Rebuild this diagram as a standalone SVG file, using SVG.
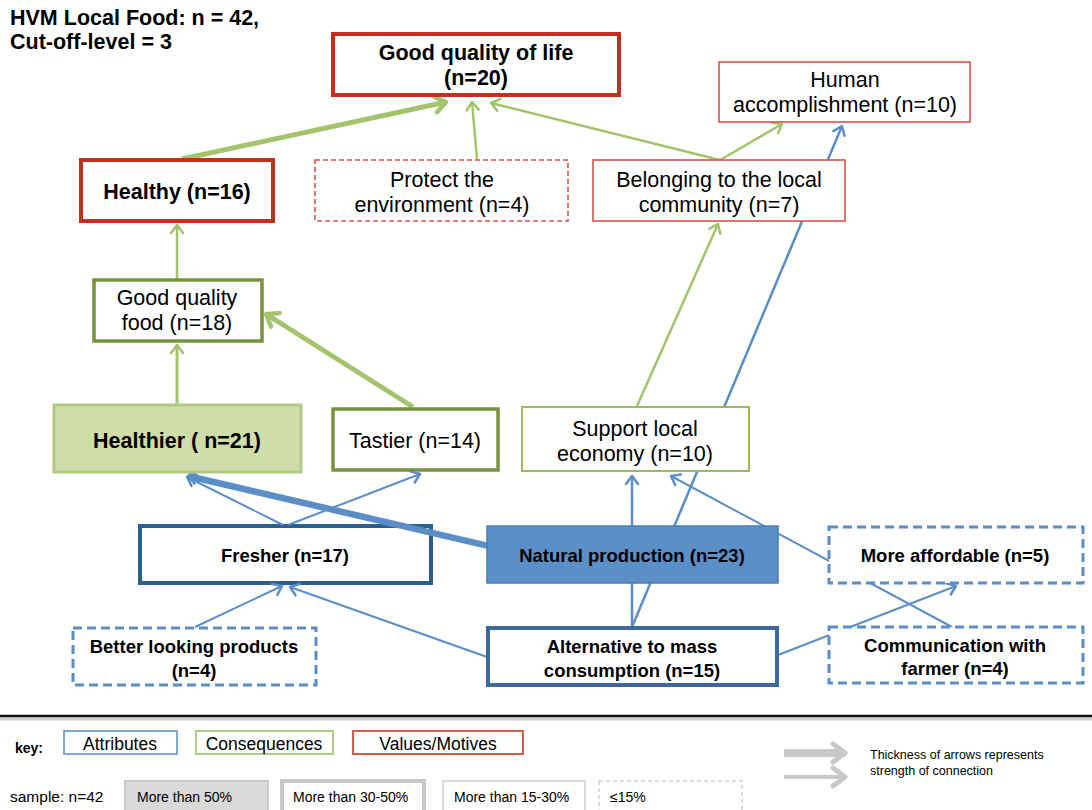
<svg xmlns="http://www.w3.org/2000/svg" width="1092" height="810" viewBox="0 0 1092 810">
<style>
text{font-family:"Liberation Sans",Arial,sans-serif;fill:#000}
.b{font-weight:bold}
.big{font-size:21.5px}
.sm{font-size:18.5px}
.c{text-anchor:middle}
.box{fill:#fff}
.redT{stroke:#c0301c;stroke-width:4}
.redt{stroke:#d9534a;stroke-width:1.6}
.redd{stroke:#d9534a;stroke-width:1.6;stroke-dasharray:5,3}
.olive{stroke:#77933c;stroke-width:3.5}
.greent{stroke:#9bbb59;stroke-width:2}
.navy{stroke:#2d5e90;stroke-width:4}
.blued{stroke:#5b8ec6;stroke-width:3;stroke-dasharray:9,5}
.g{fill:none;stroke:#a3c36c;stroke-width:2.5}
.bl{fill:none;stroke:#5b8ec6;stroke-width:2}
.key{font-size:17.5px}
.lg{font-size:14px}
</style>
<defs>
<marker id="ag" markerUnits="userSpaceOnUse" markerWidth="30" markerHeight="30" refX="0" refY="0" orient="auto" overflow="visible"><path d="M-8,-6 L0,0 L-8,6" fill="none" stroke="#a3c36c" stroke-width="2.5" stroke-linecap="round" stroke-linejoin="round"/></marker>
<marker id="agT" markerUnits="userSpaceOnUse" markerWidth="30" markerHeight="30" refX="0" refY="0" orient="auto" overflow="visible"><path d="M-11,-8 L0,0 L-11,8" fill="none" stroke="#a3c36c" stroke-width="4.5" stroke-linecap="round" stroke-linejoin="round"/></marker>
<marker id="ab" markerUnits="userSpaceOnUse" markerWidth="30" markerHeight="30" refX="0" refY="0" orient="auto" overflow="visible"><path d="M-8,-6 L0,0 L-8,6" fill="none" stroke="#5b8ec6" stroke-width="2.5" stroke-linecap="round" stroke-linejoin="round"/></marker>
<marker id="agr" markerUnits="userSpaceOnUse" markerWidth="40" markerHeight="40" refX="0" refY="0" orient="auto" overflow="visible"><path d="M-12,-9 L0,0 L-12,9" fill="none" stroke="#c8c8c8" stroke-width="5" stroke-linecap="round" stroke-linejoin="round"/></marker>
</defs>

<g id="title">
<text class="b big" x="10" y="25">HVM Local Food: n = 42,</text>
<text class="b big" x="10" y="49">Cut-off-level = 3</text>
</g>

<g id="n-fresher">
<rect class="box navy" x="140" y="526" width="291" height="57"/>
<text class="b sm c" x="285" y="562">Fresher (n=17)</text>
</g>

<g id="connectors">
<path class="g" d="M182,159 L446,102" style="stroke-width:5" marker-end="url(#agT)"/>
<path class="g" d="M477,159 L472,102" marker-end="url(#ag)"/>
<path class="g" d="M720,160 L491,103" marker-end="url(#ag)"/>
<path class="g" d="M720,160 L782,124" marker-end="url(#ag)"/>
<path class="g" d="M177,279 L177,225" marker-end="url(#ag)"/>
<path class="g" d="M177,404 L177,345" style="stroke-width:3" marker-end="url(#ag)"/>
<path class="g" d="M413,407 L266,314" style="stroke-width:5" marker-end="url(#agT)"/>
<path class="g" d="M637,406 L718,224" marker-end="url(#ag)"/>
<path class="bl" d="M540,558 L188,476" style="stroke-width:6.5" marker-end="url(#ab)"/>
<path class="bl" d="M283,525 L187,477" marker-end="url(#ab)"/>
<path class="bl" d="M288,525 L420,474" marker-end="url(#ab)"/>
<path class="bl" d="M632,627 L842,126" style="stroke-width:2.5" marker-end="url(#ab)"/>
<path class="bl" d="M632,627 L632,476" style="stroke-width:2.5" marker-end="url(#ab)"/>
<path class="bl" d="M952,627 L671,476" marker-end="url(#ab)"/>
<path class="bl" d="M778,655 L956,586" marker-end="url(#ab)"/>
<path class="bl" d="M487,657 L290,587" marker-end="url(#ab)"/>
<path class="bl" d="M195,627 L282,586" marker-end="url(#ab)"/>
</g>

<g id="n-goodlife">
<rect class="box redT" x="333" y="34" width="286" height="61"/>
<text class="b big c" x="476" y="60">Good quality of life</text>
<text class="b big c" x="476" y="85">(n=20)</text>
</g>
<g id="n-human">
<rect class="box redt" x="719" y="62" width="251" height="60"/>
<text class="big c" x="845" y="87">Human</text>
<text class="big c" x="845" y="112">accomplishment (n=10)</text>
</g>
<g id="n-healthy">
<rect class="box redT" x="81" y="160" width="192" height="61"/>
<text class="b big c" x="177" y="199">Healthy (n=16)</text>
</g>
<g id="n-protect">
<rect class="box redd" x="315" y="160" width="253" height="61"/>
<text class="big c" x="442" y="187">Protect the</text>
<text class="big c" x="442" y="212">environment (n=4)</text>
</g>
<g id="n-belonging">
<rect class="box redt" x="593" y="160" width="252" height="61"/>
<text class="big c" x="719" y="187">Belonging to the local</text>
<text class="big c" x="719" y="212">community (n=7)</text>
</g>
<g id="n-goodfood">
<rect class="box olive" x="94" y="280" width="168" height="61"/>
<text class="big c" x="177" y="305">Good quality</text>
<text class="big c" x="177" y="330">food (n=18)</text>
</g>
<g id="n-healthier">
<rect x="54" y="405" width="247" height="67" fill="#d0ddaa" stroke="#b0c985" stroke-width="3"/>
<text class="b big c" x="177" y="448">Healthier ( n=21)</text>
</g>
<g id="n-tastier">
<rect class="box olive" x="333" y="409" width="165" height="61"/>
<text class="big c" x="415" y="448">Tastier (n=14)</text>
</g>
<g id="n-support">
<rect class="box greent" x="522" y="407" width="227" height="64"/>
<text class="big c" x="635" y="436">Support local</text>
<text class="big c" x="635" y="461">economy (n=10)</text>
</g>
<g id="n-natural">
<rect x="487" y="526" width="291" height="57" fill="#5b8fc8" stroke="#4a7cb8" stroke-width="1.5"/>
<text class="b sm c" x="632" y="562">Natural production (n=23)</text>
</g>
<g id="n-affordable">
<rect class="box blued" x="829" y="527" width="254" height="56"/>
<text class="b sm c" x="955" y="562">More affordable (n=5)</text>
</g>
<g id="n-better">
<rect class="box blued" x="73" y="628" width="243" height="57"/>
<text class="b sm c" x="194" y="653">Better looking products</text>
<text class="b sm c" x="194" y="677">(n=4)</text>
</g>
<g id="n-alternative">
<rect class="box navy" x="488" y="628" width="289" height="57" style="stroke:#3d6a9a"/>
<text class="b sm c" x="632" y="653">Alternative to mass</text>
<text class="b sm c" x="632" y="677">consumption (n=15)</text>
</g>
<g id="n-communication">
<rect class="box blued" x="829" y="627" width="254" height="56"/>
<text class="b sm c" x="955" y="652">Communication with</text>
<text class="b sm c" x="955" y="675">farmer (n=4)</text>
</g>

<g id="legend">
<line x1="0" y1="719" x2="1092" y2="719" stroke="#cfcfcf" stroke-width="3"/>
<line x1="0" y1="716" x2="1092" y2="716" stroke="#111" stroke-width="2.5"/>
<text class="b" x="15" y="753" style="font-size:14px">key:</text>
<rect x="64" y="731" width="113" height="23" fill="#fff" stroke="#6fa0d6" stroke-width="1.8"/>
<text class="key c" x="120" y="750">Attributes</text>
<rect x="196" y="731" width="137" height="23" fill="#fff" stroke="#a9c77a" stroke-width="1.8"/>
<text class="key c" x="264" y="750">Consequences</text>
<rect x="353" y="731" width="170" height="23" fill="#fff" stroke="#d64a35" stroke-width="1.8"/>
<text class="key c" x="438" y="750">Values/Motives</text>
<path d="M784,753 L845,753" stroke="#c8c8c8" stroke-width="8" fill="none" marker-end="url(#agr)"/>
<path d="M784,777 L845,777" stroke="#c8c8c8" stroke-width="4" fill="none" marker-end="url(#agr)"/>
<text x="870" y="759" style="font-size:12.5px">Thickness of arrows represents</text>
<text x="870" y="775" style="font-size:12.5px">strength of connection</text>
<text x="10" y="802" style="font-size:15.5px">sample: n=42</text>
<rect x="125" y="781" width="143" height="34" fill="#d9d9d9" stroke="#c8c8c8" stroke-width="2"/>
<text class="lg" x="137" y="802">More than 50%</text>
<rect x="282" y="781" width="142" height="34" fill="#fff" stroke="#c8c8c8" stroke-width="4"/>
<text class="lg" x="293" y="802">More than 30-50%</text>
<rect x="443" y="781" width="142" height="34" fill="#fff" stroke="#cfcfcf" stroke-width="1.5"/>
<text class="lg" x="454" y="802">More than 15-30%</text>
<rect x="599" y="781" width="143" height="34" fill="#fff" stroke="#cfcfcf" stroke-width="1.5" stroke-dasharray="4,3"/>
<text class="lg" x="610" y="802">≤15%</text>
</g>
</svg>
